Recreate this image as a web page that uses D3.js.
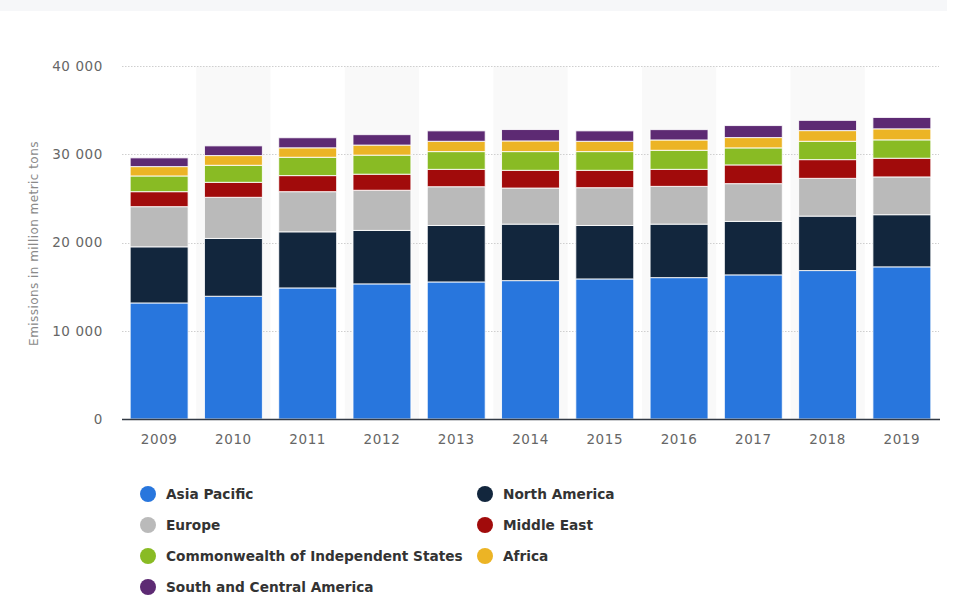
<!DOCTYPE html>
<html>
<head>
<meta charset="utf-8">
<script src="https://cdn.jsdelivr.net/npm/d3@7"></script>
<style>
  html, body { margin: 0; padding: 0; background: #fff; }
  svg { display: block; }
</style>
</head>
<body>
<svg id="chart" width="958" height="597"></svg>
<script>
// Years on the x axis
const years = ["2009","2010","2011","2012","2013","2014","2015","2016","2017","2018","2019"];

// CO2 emissions by region, million metric tons
const asiaPacific   = [13150, 13910, 14850, 15310, 15530, 15680, 15870, 16020, 16330, 16820, 17240];
const northAmerica  = [6360, 6550, 6360, 6060, 6400, 6400, 6060, 6060, 6060, 6170, 5910];
const europe        = [4550, 4660, 4550, 4550, 4390, 4090, 4280, 4280, 4280, 4280, 4280];
const middleEast    = [1700, 1700, 1820, 1820, 1970, 2010, 1970, 1930, 2120, 2120, 2120];
const cis           = [1780, 1930, 2080, 2160, 2010, 2120, 2120, 2160, 1930, 2080, 2080];
const africa        = [1060, 1100, 1070, 1140, 1170, 1210, 1170, 1170, 1170, 1210, 1250];
const southCentral  = [990, 1100, 1140, 1180, 1180, 1290, 1180, 1170, 1360, 1160, 1290];

const yTicks = [0, 10000, 20000, 30000, 40000];

// Series in stacking order (bottom to top)
const series = [
  { key: "Asia Pacific", values: asiaPacific, color: "#2876dd" },
  { key: "North America", values: northAmerica, color: "#12263d" },
  { key: "Europe", values: europe, color: "#bababa" },
  { key: "Middle East", values: middleEast, color: "#a10b0b" },
  { key: "Commonwealth of Independent States", values: cis, color: "#89bb24" },
  { key: "Africa", values: africa, color: "#ecb425" },
  { key: "South and Central America", values: southCentral, color: "#5d2a73" }
];

// Legend layout: two columns
const legendItems = [
  { key: "Asia Pacific", col: 0, row: 0 },
  { key: "North America", col: 1, row: 0 },
  { key: "Europe", col: 0, row: 1 },
  { key: "Middle East", col: 1, row: 1 },
  { key: "Commonwealth of Independent States", col: 0, row: 2 },
  { key: "Africa", col: 1, row: 2 },
  { key: "South and Central America", col: 0, row: 3 }
];

const svg = d3.select("#chart");
const plotLeft = 122, plotRight = 939, plotTop = 66, plotBottom = 419;

// Top strip
svg.append("rect").attr("x", 0).attr("y", 0).attr("width", 947).attr("height", 11)
  .attr("fill", "#f6f7f9");

const x = d3.scaleBand().domain(years).range([plotLeft, plotRight]).paddingInner(0).paddingOuter(0);
const y = d3.scaleLinear().domain([0, 40000]).range([plotBottom, plotTop]);

// Alternating column shading
svg.append("g").selectAll("rect")
  .data(years.filter((d, i) => i % 2 === 1))
  .join("rect")
  .attr("x", d => x(d))
  .attr("y", y(40000))
  .attr("width", x.bandwidth())
  .attr("height", y(0) - y(40000))
  .attr("fill", "#f9f9f9");

// Grid lines
svg.append("g").selectAll("line")
  .data(yTicks.filter(t => t > 0))
  .join("line")
  .attr("x1", plotLeft).attr("x2", plotRight)
  .attr("y1", d => Math.round(y(d)) + 0.5).attr("y2", d => Math.round(y(d)) + 0.5)
  .attr("stroke", "#cfcfcf")
  .attr("stroke-width", 1)
  .attr("stroke-dasharray", "1.5,1.5");

// Y axis labels
const yAxis = d3.axisLeft(y).tickValues(yTicks).tickSize(0).tickPadding(0)
  .tickFormat(d => d3.format(",")(d).replace(/,/g, " "));
const yg = svg.append("g").attr("transform", `translate(${103},0)`).call(yAxis);
yg.select(".domain").remove();
yg.selectAll("text")
  .attr("fill", "#666")
  .attr("font-family", "DejaVu Sans, Verdana, sans-serif")
  .attr("font-size", 13.5)
  .attr("letter-spacing", "0.6px");

// Y axis title
svg.append("text")
  .attr("transform", `translate(37.5,${243.5}) rotate(-90)`)
  .attr("text-anchor", "middle")
  .attr("fill", "#8a8a8a")
  .attr("font-family", "DejaVu Sans, Verdana, sans-serif")
  .attr("font-size", 12)
  .attr("letter-spacing", "0.45px")
  .text("Emissions in million metric tons");

// Stacked bars
const table = years.map((yr, i) => {
  const row = { year: yr };
  series.forEach(s => { row[s.key] = s.values[i]; });
  return row;
});
const stack = d3.stack().keys(series.map(s => s.key));
const stacked = stack(table);
const barW = x.bandwidth() * 0.78;
const barOff = (x.bandwidth() - barW) / 2;

svg.append("g").selectAll("g")
  .data(stacked)
  .join("g")
  .attr("fill", (d, i) => series[i].color)
  .selectAll("rect")
  .data(d => d)
  .join("rect")
  .attr("x", d => x(d.data.year) + barOff)
  .attr("y", d => y(d[1]))
  .attr("width", barW)
  .attr("height", d => y(d[0]) - y(d[1]))
  .attr("stroke", "#ffffff")
  .attr("stroke-opacity", 0.85)
  .attr("stroke-width", 1);

// Baseline
svg.append("line")
  .attr("x1", plotLeft).attr("x2", plotRight + 1)
  .attr("y1", y(0) + 0.5).attr("y2", y(0) + 0.5)
  .attr("stroke", "#333a44")
  .attr("stroke-width", 1.5);

// X axis labels
const xAxis = d3.axisBottom(x).tickSize(0).tickPadding(0);
const xg = svg.append("g").attr("transform", `translate(0,${434})`).call(xAxis);
xg.select(".domain").remove();
xg.selectAll("text")
  .attr("dy", "0.71em")
  .attr("fill", "#666")
  .attr("font-family", "DejaVu Sans, Verdana, sans-serif")
  .attr("font-size", 13.5)
  .attr("letter-spacing", "0.6px");

// Legend
const colX = [148, 485];
const rowY = [494, 525, 556, 587];
const colorOf = Object.fromEntries(series.map(s => [s.key, s.color]));
const lg = svg.append("g").selectAll("g")
  .data(legendItems)
  .join("g")
  .attr("transform", d => `translate(${colX[d.col]},${rowY[d.row]})`);
lg.append("circle").attr("r", 8).attr("fill", d => colorOf[d.key]);
lg.append("text")
  .attr("x", 18)
  .attr("dy", "0.36em")
  .attr("fill", "#333")
  .attr("font-family", "DejaVu Sans, Verdana, sans-serif")
  .attr("font-weight", "bold")
  .attr("font-size", 13.7)
  .text(d => d.key);
</script>
</body>
</html>
